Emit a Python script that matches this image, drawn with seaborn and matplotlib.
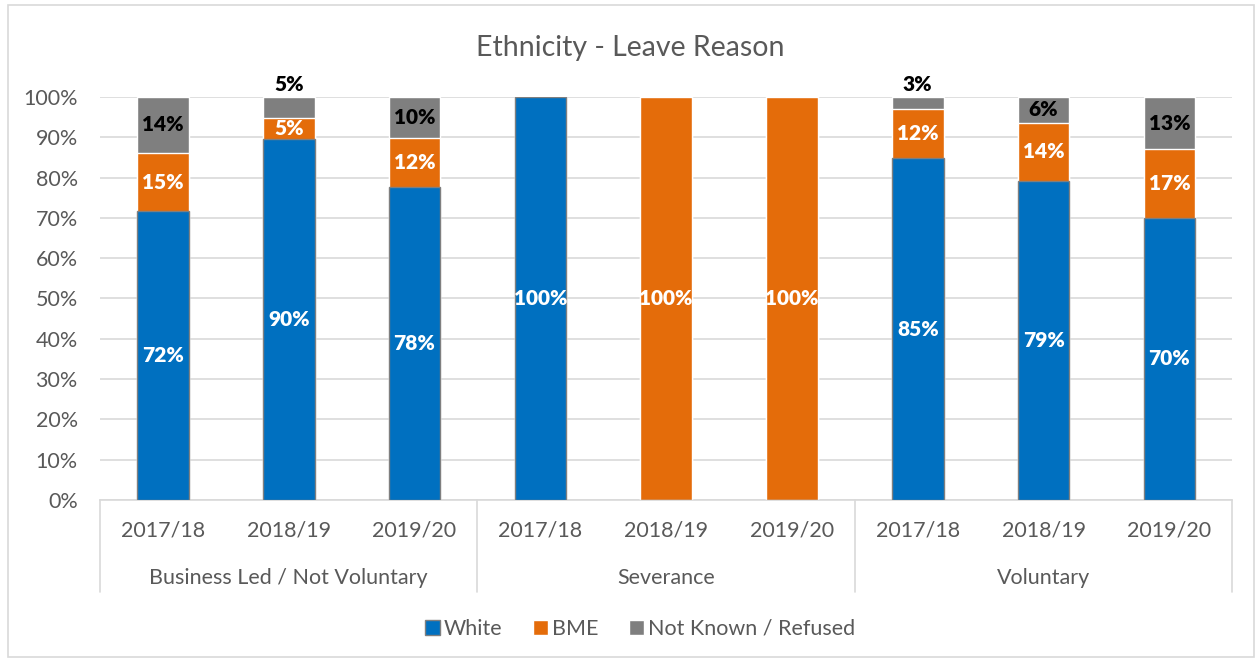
import pandas as pd
import matplotlib
matplotlib.use('Agg')
import matplotlib.pyplot as plt
import matplotlib.patches as mpatches
import seaborn as sns

# 数据
groups = ['Business Led / Not Voluntary', 'Severance', 'Voluntary']
years = ['2017/18', '2018/19', '2019/20']
white = [71.6, 89.6, 77.6, 100.0, 0.0, 0.0, 84.8, 79.2, 70.0]
bme = [14.6, 5.2, 12.2, 0.0, 100.0, 100.0, 12.2, 14.4, 17.0]
unknown = [13.8, 5.2, 10.2, 0.0, 0.0, 0.0, 3.0, 6.4, 13.0]

c_white = '#0070C0'
c_bme = '#E46C0A'
c_unk = '#7F7F7F'
txt_gray = '#595959'
grid_c = '#D9D9D9'

sns.set_style('white')
plt.rcParams['font.family'] = ['Lato', 'DejaVu Sans']

bar_ids = ['{}|{}'.format(g, y) for g in groups for y in years]
df = pd.DataFrame({'bar': bar_ids, 'White': white, 'BME': bme, 'Unknown': unknown})
df['cum_bme'] = df['White'] + df['BME']
df['cum_all'] = df['cum_bme'] + df['Unknown']

fig = plt.figure(figsize=(12.6, 6.62), dpi=100)
ax = fig.add_axes([0.0794, 0.2447, 0.8986, 0.6088])

# 叠加画法：先画总高，再画白+BME，最后画白
sns.barplot(data=df, x='bar', y='cum_all', order=bar_ids, color=c_unk, width=0.41,
            saturation=1, ax=ax, zorder=2)
sns.barplot(data=df, x='bar', y='cum_bme', order=bar_ids, color=c_bme, width=0.41,
            saturation=1, ax=ax, zorder=3)
sns.barplot(data=df, x='bar', y='White', order=bar_ids, color=c_white, width=0.41,
            saturation=1, ax=ax, zorder=4, edgecolor=c_unk, linewidth=1)

ax.set_xlim(-0.5, len(bar_ids) - 0.5)
ax.set_ylim(0, 100)
ax.set_yticks(range(0, 101, 10))
ax.set_yticklabels(['{}%'.format(v) for v in range(0, 101, 10)])
ax.yaxis.grid(True, color=grid_c, linewidth=1.2, zorder=0)
ax.set_axisbelow(True)
ax.set_xlabel('')
ax.set_ylabel('')
for s in ['top', 'right', 'left']:
    ax.spines[s].set_visible(False)
ax.spines['bottom'].set_color(grid_c)
ax.spines['bottom'].set_linewidth(1.2)
ax.tick_params(axis='y', length=0, labelsize=15.5, labelcolor=txt_gray, pad=16)
ax.set_xticks(range(len(bar_ids)))
ax.set_xticklabels(years * len(groups))
ax.tick_params(axis='x', length=0, labelsize=15.5, labelcolor=txt_gray, pad=15)

# 分组标签和分隔线
tr = ax.get_xaxis_transform()
for i, g in enumerate(groups):
    ax.text(i * 3 + 1, -0.194, g, transform=tr, ha='center', va='center',
            fontsize=15.5, color=txt_gray)
for xv in [-0.5, 2.5, 5.5, 8.5]:
    ax.plot([xv, xv], [0, -0.228], transform=tr, color=grid_c, lw=1.2, clip_on=False)

# 数据标签
for i in range(len(bar_ids)):
    w, b, u = white[i], bme[i], unknown[i]
    if w > 0:
        ax.text(i, w / 2, '{}%'.format(round(w)), ha='center', va='center',
                color='white', fontsize=15, fontweight='heavy', zorder=6)
    if b > 0:
        ax.text(i, w + b / 2, '{}%'.format(round(b)), ha='center', va='center',
                color='white', fontsize=15, fontweight='heavy', zorder=6)
    if u > 0:
        if u < 6:
            ypos = w + b + u + 3
        else:
            ypos = w + b + u / 2
        ax.text(i, ypos, '{}%'.format(round(u)), ha='center', va='center',
                color='black', fontsize=15, fontweight='heavy', zorder=6, clip_on=False)

fig.text(0.5, 0.927, 'Ethnicity - Leave Reason', ha='center', va='center',
         fontsize=20.5, color=txt_gray)

handles = [mpatches.Patch(facecolor=c_white, edgecolor=c_unk, label='White'),
           mpatches.Patch(facecolor=c_bme, label='BME'),
           mpatches.Patch(facecolor=c_unk, label='Not Known / Refused')]
leg = fig.legend(handles=handles, loc='center', bbox_to_anchor=(0.508, 0.05), ncol=3,
                 frameon=False, handlelength=0.7, handleheight=0.7, handletextpad=0.2,
                 columnspacing=1.4, fontsize=15.5)
for t in leg.get_texts():
    t.set_color(txt_gray)

fig.patches.append(mpatches.Rectangle((0.006, 0.008), 0.989, 0.985, transform=fig.transFigure,
                                      fill=False, edgecolor=grid_c, linewidth=1.2))

fig.savefig('out.png', dpi=100)
plt.close(fig)
